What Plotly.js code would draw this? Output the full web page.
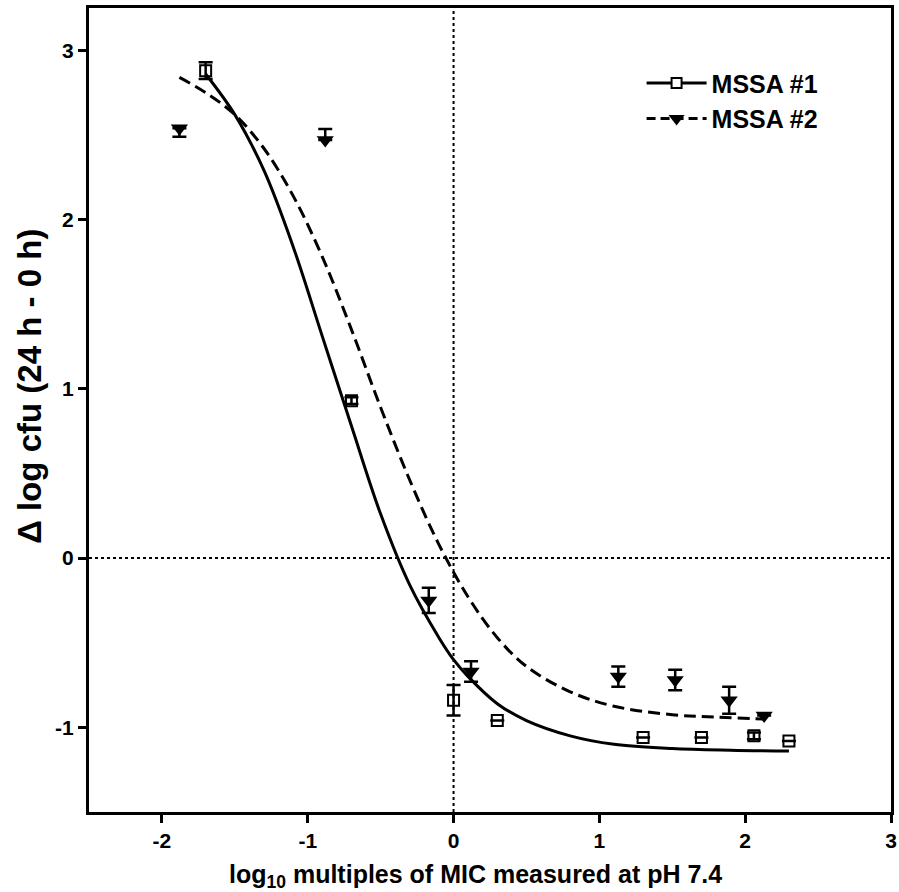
<!DOCTYPE html>
<html>
<head>
<meta charset="utf-8">
<script src="https://cdn.plot.ly/plotly-3.0.1.min.js"></script>
<style>html,body{margin:0;padding:0;background:#fff;}#chart{width:899px;height:892px;}</style>
</head>
<body>
<div id="chart"></div>
<script>
// MSSA #1 observed (open squares)
const x1 = [-1.70, -0.70, 0.00, 0.30, 1.30, 1.70, 2.06, 2.30];
const y1 = [2.88, 0.93, -0.84, -0.96, -1.06, -1.06, -1.05, -1.08];
const err1 = [0.05, 0.02, 0.09, 0, 0, 0, 0.02, 0];

// MSSA #2 observed (filled down-triangles)
const x2 = [-1.88, -0.88, -0.17, 0.12, 1.13, 1.52, 1.89, 2.13];
const y2 = [2.54, 2.47, -0.25, -0.67, -0.70, -0.72, -0.84, -0.93];
const err2plus = [0, 0.065, 0.075, 0.06, 0.06, 0.06, 0.08, 0];
const err2minus = [0.05, 0, 0.075, 0.06, 0.06, 0.06, 0.08, 0];

// fitted curves
const fit1x = [-1.70, -1.5, -1.3, -1.1, -0.9, -0.7, -0.5, -0.3, -0.1, 0, 0.1, 0.3, 0.5, 0.8, 1.1, 1.5, 1.9, 2.3];
const fit1y = [2.86, 2.62, 2.29, 1.84, 1.31, 0.78, 0.26, -0.16, -0.47, -0.60, -0.70, -0.86, -0.96, -1.05, -1.10, -1.125, -1.135, -1.14];
const fit2x = [-1.88, -1.7, -1.5, -1.3, -1.1, -0.9, -0.7, -0.5, -0.3, -0.1, 0.1, 0.3, 0.5, 0.8, 1.1, 1.5, 1.8, 2.13];
const fit2y = [2.84, 2.75, 2.62, 2.42, 2.14, 1.78, 1.35, 0.89, 0.46, 0.08, -0.23, -0.47, -0.64, -0.79, -0.875, -0.925, -0.94, -0.95];

const seriesNames = ['MSSA #1', 'MSSA #2'];
const xTicks = [-2, -1, 0, 1, 2, 3];
const xTickText = ['-2', '-1', '0', '1', '2', '3'];
const yTicks = [-1, 0, 1, 2, 3];
const yTickText = ['-1', '0', '1', '2', '3'];
const xTitle = '<b>log<sub>10</sub> multiples of MIC measured at pH 7.4</b>';
const yTitle = '<b>Δ log cfu (24 h - 0 h)</b>';

const FONT = 'Arial, "Liberation Sans", Helvetica, sans-serif';
const dashPat = '12px,6px';

const traces = [
  {x: fit1x, y: fit1y, mode: 'lines', line: {color: '#000', width: 3, shape: 'spline', smoothing: 1}, showlegend: false, hoverinfo: 'skip'},
  {x: fit2x, y: fit2y, mode: 'lines', line: {color: '#000', width: 3, dash: dashPat, shape: 'spline', smoothing: 1}, showlegend: false, hoverinfo: 'skip'},
  {x: x1, y: y1, mode: 'markers', showlegend: false,
   marker: {symbol: 'square-open', size: 11, color: '#000', line: {width: 2, color: '#000'}},
   error_y: {type: 'data', array: err1, visible: true, color: '#000', thickness: 2.5, width: 7}},
  {x: x2, y: y2, mode: 'markers', showlegend: false,
   marker: {symbol: 'triangle-down', size: 15, color: '#000'},
   error_y: {type: 'data', symmetric: false, array: err2plus, arrayminus: err2minus, visible: true, color: '#000', thickness: 2.5, width: 7}},
  // legend entries
  {x: [null], y: [null], name: seriesNames[0], mode: 'lines+markers', legendgroup: 'a',
   line: {color: '#000', width: 3}, marker: {symbol: 'square', size: 10, color: '#fff', line: {width: 2, color: '#000'}}},
  {x: [null], y: [null], name: seriesNames[1], mode: 'lines+markers', legendgroup: 'b',
   line: {color: '#000', width: 3, dash: '9px,5px'}, marker: {symbol: 'triangle-down', size: 14, color: '#000'}}
];

const axisCommon = {
  showgrid: false, zeroline: false, showline: true, linecolor: '#000', linewidth: 3, mirror: true,
  ticks: 'outside', ticklen: 8, tickwidth: 3, tickcolor: '#000', tickmode: 'array',
  tickfont: {family: FONT, size: 21, color: '#000', weight: 'bold'}
};

const layout = {
  width: 899, height: 892,
  margin: {l: 89, r: 8, t: 8, b: 80},
  paper_bgcolor: '#fff', plot_bgcolor: '#fff',
  font: {family: FONT, color: '#000'},
  xaxis: Object.assign({}, axisCommon, {range: [-2.5, 3], tickvals: xTicks, ticktext: xTickText}),
  yaxis: Object.assign({}, axisCommon, {range: [-1.5, 3.25], tickvals: yTicks, ticktext: yTickText}),
  annotations: [
    {text: xTitle, xref: 'paper', yref: 'paper', x: 0.4825, y: -0.079, xanchor: 'center', yanchor: 'middle',
     showarrow: false, font: {family: FONT, size: 25, color: '#000'}},
    {text: yTitle, xref: 'paper', yref: 'paper', x: -0.0736, y: 0.53, xanchor: 'center', yanchor: 'middle',
     textangle: -90, showarrow: false, font: {family: FONT, size: 33, color: '#000'}}
  ],
  shapes: [
    {type: 'line', xref: 'x', yref: 'paper', x0: 0, x1: 0, y0: 0, y1: 1, line: {color: '#000', width: 2, dash: 'dot'}, layer: 'below'},
    {type: 'line', xref: 'paper', yref: 'y', x0: 0, x1: 1, y0: 0, y1: 0, line: {color: '#000', width: 2, dash: 'dot'}, layer: 'below'}
  ],
  legend: {x: 0.689, y: 0.935, xanchor: 'left', yanchor: 'top', bgcolor: 'rgba(0,0,0,0)',
    font: {family: FONT, size: 25, color: '#000', weight: 'bold'}, itemwidth: 60,
    traceorder: 'grouped', tracegroupgap: 0},
  showlegend: true
};

Plotly.newPlot('chart', traces, layout, {staticPlot: true, displayModeBar: false});
</script>
</body>
</html>
